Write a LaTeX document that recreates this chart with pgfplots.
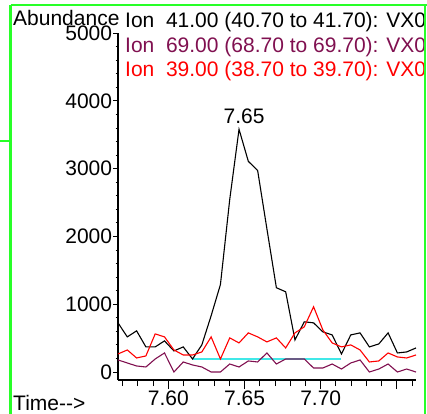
\documentclass[border=0pt]{standalone}
\usepackage{fontspec}
\setmainfont{Liberation Sans}
\usepackage{pgfplots}
\usepackage{pgfplotstable}
\pgfplotsset{compat=1.18}
\definecolor{ionpurple}{RGB}{128,16,80}
\definecolor{ionred}{RGB}{255,0,0}
\definecolor{basecyan}{RGB}{64,232,232}
\definecolor{framegreen}{RGB}{40,255,40}
\newcommand\fs{\fontsize{21bp}{25bp}\selectfont}
\pgfplotstableread{
t b p r
7.5670 725 178 266
7.5731 518 133 325
7.5792 607 89 207
7.5853 370 74 237
7.5914 370 192 562
7.5975 459 281 518
7.6037 311 0 325
7.6098 370 148 251
7.6159 192 104 251
7.6220 400 74 296
7.6281 830 0 518
7.6342 1290 0 192
7.6403 2545 118 503
7.6464 3580 74 429
7.6525 3107 163 577
7.6586 2973 148 518
7.6647 2110 281 444
7.6709 1243 118 503
7.6770 1183 192 355
7.6831 473 192 577
7.6892 740 192 666
7.6953 725 59 962
7.7014 592 59 620
7.7075 547 118 429
7.7136 266 44 370
7.7197 547 133 400
7.7258 577 178 325
7.7319 370 0 148
7.7381 414 44 163
7.7442 577 118 281
7.7503 281 0 222
7.7564 296 44 207
7.7625 355 0 251
}\datatable
\pgfplotstableread{
t v
7.6159 190
7.7136 190
}\basetable
\begin{document}
\begin{tikzpicture}
\useasboundingbox (0bp,0bp) rectangle (427bp,-414bp);
\clip (0bp,0bp) rectangle (427bp,-414bp);
\begin{axis}[
  at={(118bp,-380bp)}, anchor=south west,
  scale only axis, width=298bp, height=347bp,
  xmin=7.5670, xmax=7.7625, ymin=-118, ymax=5000,
  axis x line*=bottom, axis y line*=left,
  axis line style={-, line width=1.1bp},
  tick align=outside,
  xtick={7.60,7.65,7.70,7.75},
  xticklabels={7.60,7.65,7.70,},
  minor xtick={7.57,7.58,7.59,7.61,7.62,7.63,7.64,7.66,7.67,7.68,7.69,7.71,7.72,7.73,7.74,7.76},
  ytick={0,1000,2000,3000,4000,5000},
  yticklabels={0,1000,2000,3000,4000,5000},
  minor ytick={200,400,600,800,1200,1400,1600,1800,2200,2400,2600,2800,3200,3400,3600,3800,4200,4400,4600,4800},
  major x tick style={/pgfplots/major tick length=9bp, line width=1bp, black},
  minor x tick style={/pgfplots/minor tick length=6bp, line width=1bp, black},
  major y tick style={/pgfplots/major tick length=5bp, line width=1bp, black},
  minor y tick style={/pgfplots/minor tick length=2.5bp, line width=0.8bp, black},
  /pgf/number format/assume math mode=true,
  every tick label/.append style={font=\fs},
  xticklabel style={anchor=north, inner sep=0pt, yshift=-6bp},
  yticklabel style={anchor=east, inner sep=0pt, xshift=-1.5bp},
  clip=false,
]
\addplot[basecyan, line width=2.6bp] table[x=t, y=v] {\basetable};
\addplot[black, line width=1.1bp] table[x=t, y=b] {\datatable};
\addplot[ionpurple, line width=1.1bp] table[x=t, y=p] {\datatable};
\addplot[ionred, line width=1.1bp] table[x=t, y=r] {\datatable};
\node[anchor=south, inner sep=0pt, font=\fs, xshift=5bp, yshift=5bp] at (axis cs:7.6464,3580) {7.65};
\end{axis}
\node[anchor=base west, inner sep=0pt, font=\fs] at (13bp,-25bp) {Abundance};
\node[anchor=base west, inner sep=0pt, font=\fs] at (13bp,-410bp) {Time-\kern0pt-\kern0pt>};
\node[anchor=base west, inner sep=0pt, font=\fs, text=black] at (125bp,-27bp) {Ion~~41.00 (40.70 to 41.70): VX0 data};
\node[anchor=base west, inner sep=0pt, font=\fs, text=ionpurple] at (125bp,-52bp) {Ion~~69.00 (68.70 to 69.70): VX0 data};
\node[anchor=base west, inner sep=0pt, font=\fs, text=ionred] at (125bp,-76bp) {Ion~~39.00 (38.70 to 39.70): VX0 data};
\draw[framegreen, line width=2bp] (10.5bp,-4.5bp) -- (427bp,-4.5bp);
\draw[framegreen, line width=3bp] (10.5bp,-4.5bp) -- (10.5bp,-414bp);
\draw[framegreen, line width=2bp] (425bp,-4.5bp) -- (425bp,-414bp);
\draw[framegreen, line width=1.5bp] (0bp,-141bp) -- (10bp,-141bp);
\end{tikzpicture}
\end{document}
